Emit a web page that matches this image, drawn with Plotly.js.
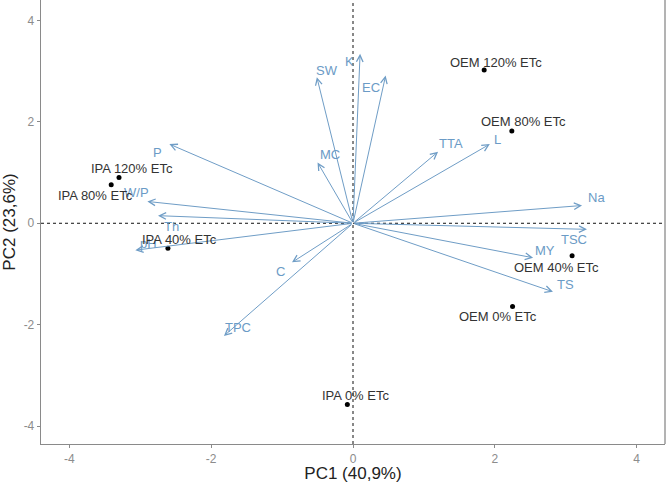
<!DOCTYPE html>
<html>
<head>
<meta charset="utf-8">
<script src="https://cdn.plot.ly/plotly-3.0.1.min.js"></script>
<style>
  html, body { margin: 0; padding: 0; background: #ffffff; }
  #chart { width: 666px; height: 483px; }
</style>
</head>
<body>
<div id="chart"></div>
<script>
// PCA biplot: treatments (scores) and variables (loadings)
const obsNames = ["OEM 120% ETc", "OEM 80% ETc", "OEM 40% ETc", "OEM 0% ETc",
                  "IPA 120% ETc", "IPA 80% ETc", "IPA 40% ETc", "IPA 0% ETc"];
const obsPC1 = [1.85, 2.24, 3.09, 2.25, -3.30, -3.41, -2.61, -0.08];
const obsPC2 = [3.02, 1.82, -0.64, -1.64, 0.90, 0.76, -0.49, -3.57];

const varNames = ["SW", "K", "EC", "MC", "TTA", "L", "Na", "TSC", "MY", "TS",
                  "C", "TPC", "P", "W/P", "Th", "pH"];
const varPC1 = [-0.51, 0.10, 0.46, -0.50, 1.20, 1.93, 3.23, 3.30, 2.54, 2.82,
                -0.86, -1.82, -2.59, -2.90, -2.75, -3.07];
const varPC2 = [2.88, 3.34, 2.91, 1.20, 1.41, 1.56, 0.35, -0.12, -0.68, -1.35,
                -0.77, -2.22, 1.56, 0.43, 0.15, -0.53];

const xTicks = [-4, -2, 0, 2, 4];
const yTicks = [-4, -2, 0, 2, 4];
const xTitle = "PC1 (40,9%)";
const yTitle = "PC2 (23,6%)";

// label placement (pixel nudges, repel-style)
const obsShift = {
  "OEM 120% ETc": [12, 8], "OEM 80% ETc": [12, 9], "OEM 40% ETc": [-16, -12],
  "OEM 0% ETc": [-15, -10], "IPA 120% ETc": [13, 9], "IPA 80% ETc": [-16, -11],
  "IPA 40% ETc": [12, 9], "IPA 0% ETc": [8, 9]
};
const varShift = {
  "SW": [10, 7], "K": [-11, -8], "EC": [-15, -12], "MC": [12, 8], "TTA": [13, 8],
  "L": [8, 5], "Na": [14, 8], "TSC": [-13, -10], "MY": [12, 7], "TS": [13, 7],
  "C": [-12, -9], "TPC": [14, 8], "P": [-12, -8], "W/P": [-11, 9],
  "Th": [13, -11], "pH": [13, 7]
};

const arrowColor = "#6f9dc6";
const varTextColor = "#6b9bc6";
const obsTextColor = "#333333";
const labelFont = "Liberation Sans, Arial, sans-serif";

const annotations = [];

// loading arrows from the origin
varNames.forEach((n, i) => {
  annotations.push({
    x: varPC1[i], y: varPC2[i], xref: "x", yref: "y",
    ax: 0, ay: 0, axref: "x", ayref: "y",
    text: "", showarrow: true,
    arrowhead: 5, arrowsize: 1.3, arrowwidth: 1, arrowcolor: arrowColor,
    standoff: 0, startstandoff: 0
  });
});

// variable labels
varNames.forEach((n, i) => {
  const s = varShift[n] || [0, 0];
  annotations.push({
    x: varPC1[i], y: varPC2[i], xref: "x", yref: "y",
    text: n, showarrow: false, xshift: s[0], yshift: s[1],
    font: { family: labelFont, size: 13, color: varTextColor }
  });
});

// treatment labels
obsNames.forEach((n, i) => {
  const s = obsShift[n] || [0, 0];
  annotations.push({
    x: obsPC1[i], y: obsPC2[i], xref: "x", yref: "y",
    text: n, showarrow: false, xshift: s[0], yshift: s[1],
    font: { family: labelFont, size: 13, color: obsTextColor }
  });
});

const traces = [{
  type: "scatter", mode: "markers",
  x: obsPC1, y: obsPC2, text: obsNames,
  marker: { color: "#000000", size: 5 },
  hoverinfo: "skip", showlegend: false, cliponaxis: false
}];

const axisLine = "#8a8a8a";
const tickFont = { family: labelFont, size: 12, color: "#8c8c8c" };

const layout = {
  width: 666, height: 483,
  margin: { l: 41, r: 1, t: 0, b: 39, pad: 0 },
  paper_bgcolor: "#ffffff", plot_bgcolor: "#ffffff",
  showlegend: false,
  xaxis: {
    range: [-4.4, 4.4], tickvals: xTicks, ticktext: xTicks.map(String),
    showgrid: false, zeroline: false,
    showline: true, linecolor: axisLine, linewidth: 1.3, mirror: false,
    ticks: "outside", ticklen: 3, tickcolor: axisLine, tickwidth: 1,
    tickfont: tickFont,
    title: { text: xTitle, font: { family: labelFont, size: 17, color: "#222222" }, standoff: 6 },
    automargin: false
  },
  yaxis: {
    range: [-4.35, 4.4], tickvals: yTicks, ticktext: yTicks.map(String),
    showgrid: false, zeroline: false,
    showline: true, linecolor: axisLine, linewidth: 1.3, mirror: false,
    ticks: "outside", ticklen: 3, tickcolor: axisLine, tickwidth: 1,
    tickfont: tickFont,
    title: { text: yTitle, font: { family: labelFont, size: 17, color: "#222222" }, standoff: 6 },
    automargin: false
  },
  shapes: [
    // zero reference lines
    { type: "line", xref: "x", yref: "paper", x0: 0, x1: 0, y0: 0, y1: 1,
      line: { color: "#111111", width: 1, dash: "3px,3px" } },
    { type: "line", xref: "paper", yref: "y", x0: 0, x1: 1, y0: 0, y1: 0,
      line: { color: "#111111", width: 1, dash: "3px,3px" } },
    // right panel edge
    { type: "line", xref: "paper", yref: "paper", x0: 1, x1: 1, y0: 0, y1: 1,
      line: { color: axisLine, width: 1.3 } }
  ],
  annotations: annotations
};

Plotly.newPlot("chart", traces, layout, { staticPlot: true, displayModeBar: false });
</script>
</body>
</html>
